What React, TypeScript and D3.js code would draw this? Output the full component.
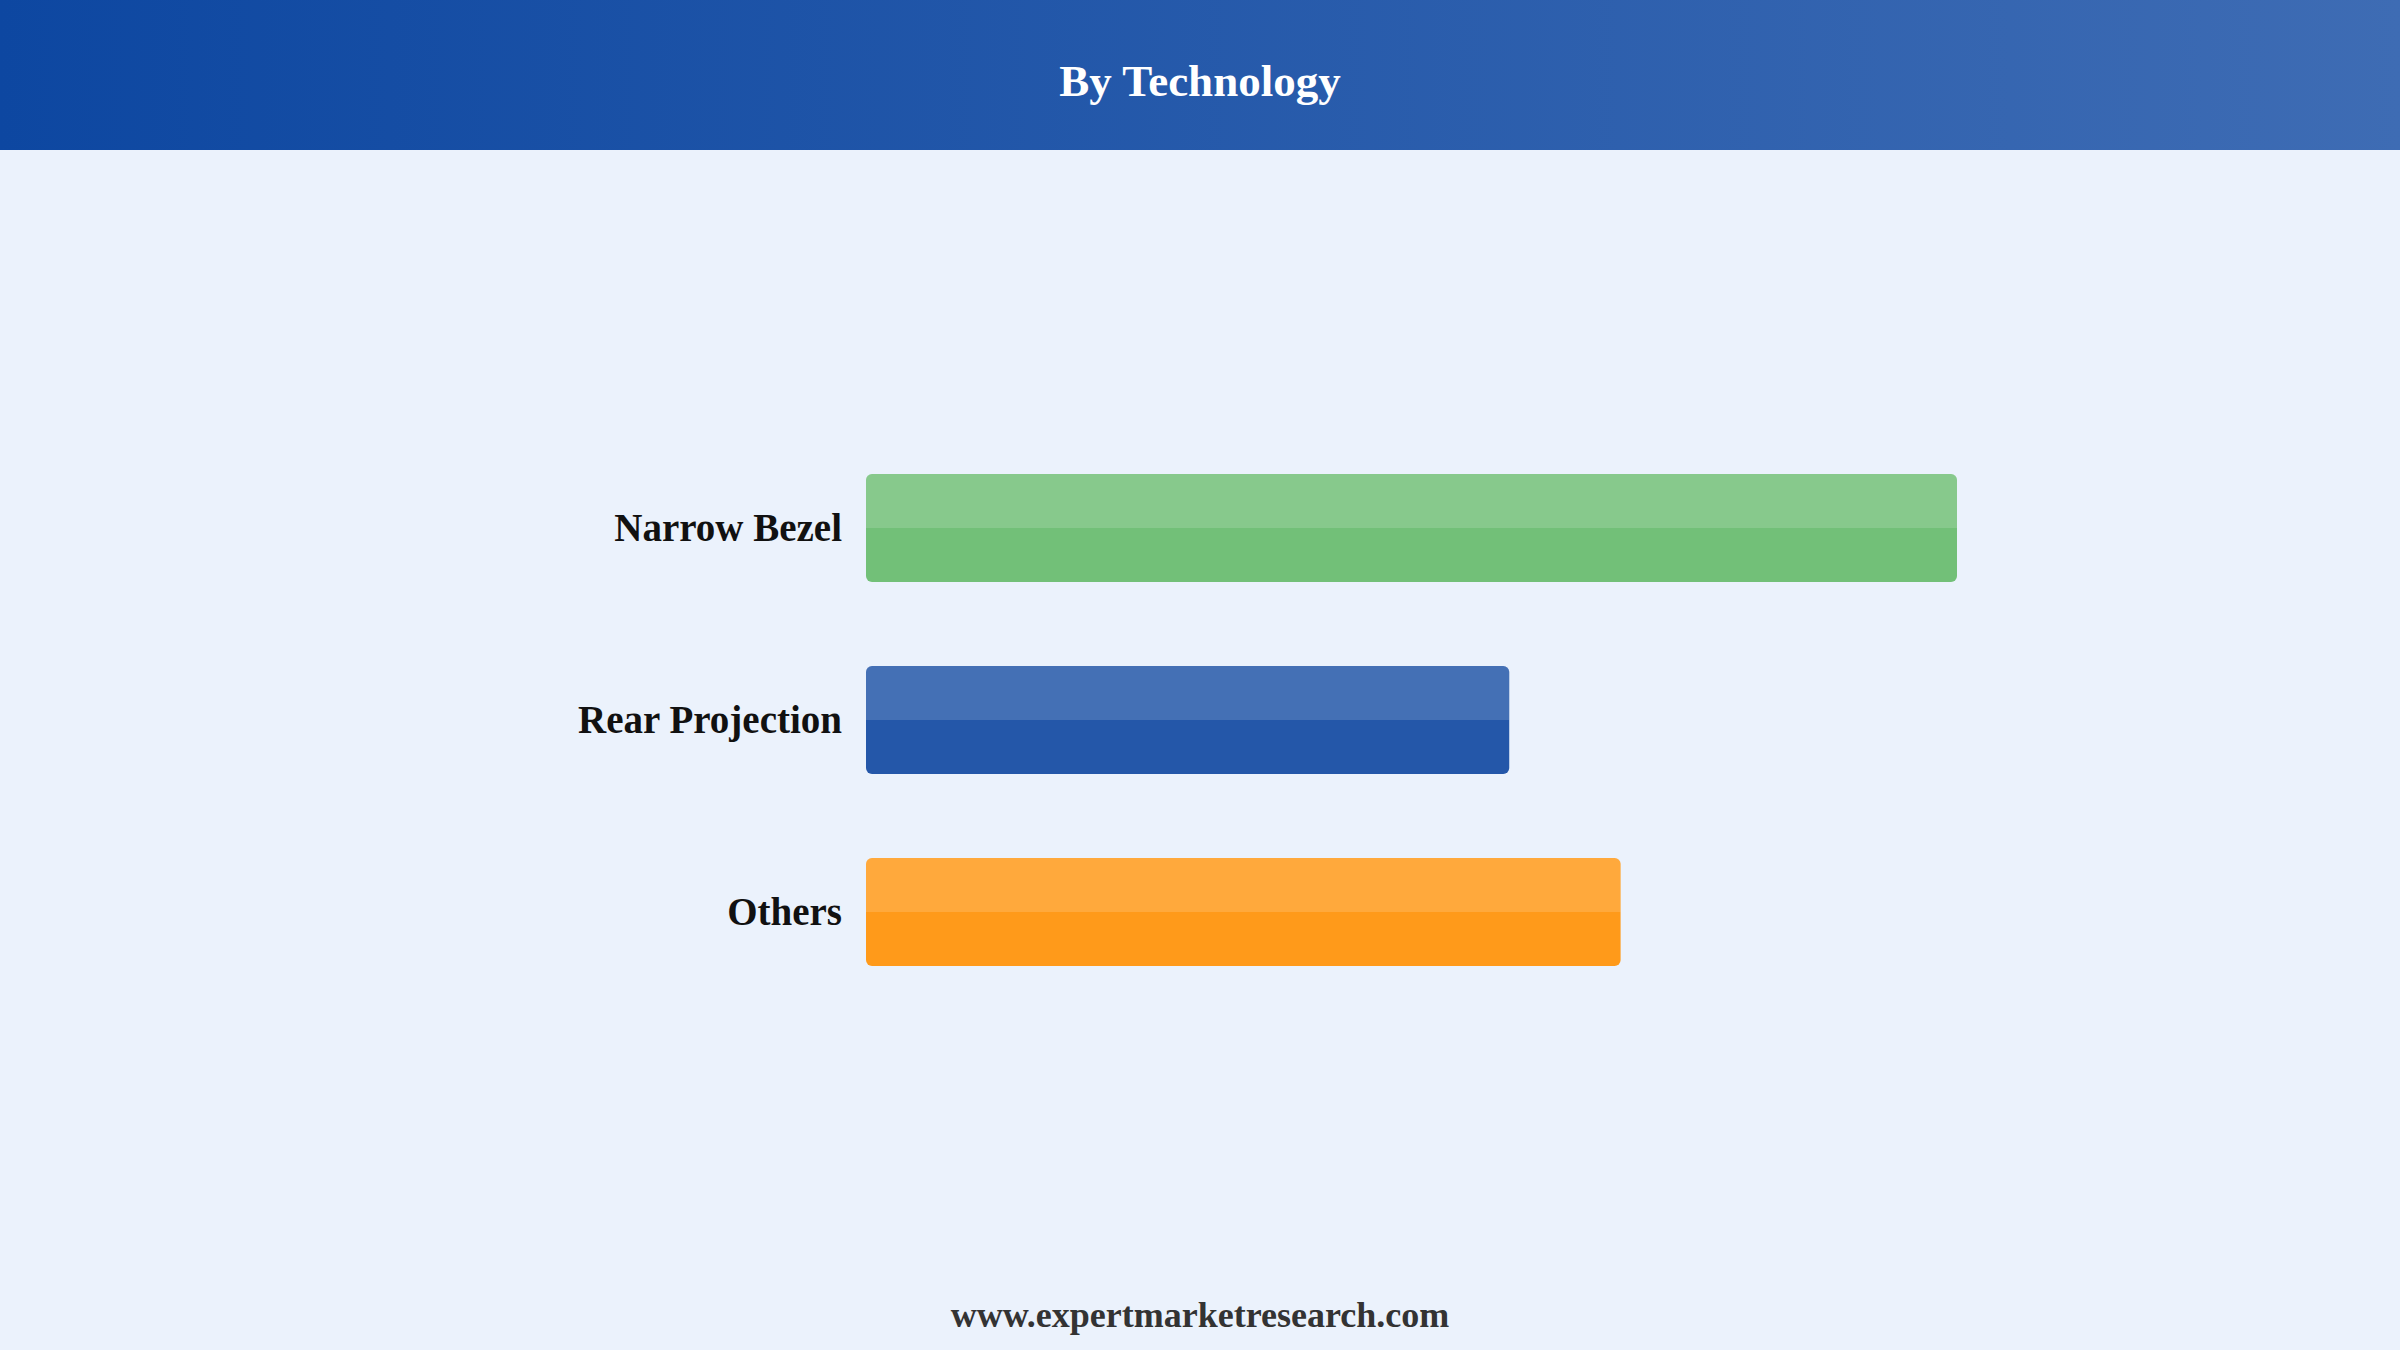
import * as d3 from "d3";
import { useEffect, useRef } from "react";

const categories = ["Narrow Bezel", "Rear Projection", "Others"];
const values = [48, 28.3, 33.2];
const colors = ["#72c078", "#2457a9", "#ff9a1a"];

const title = "By Technology";
const footer = "www.expertmarketresearch.com";

const width = 2400;
const height = 1350;
const font = "'Liberation Serif', 'Times New Roman', serif";

export default function App() {
  const ref = useRef<SVGSVGElement>(null);

  useEffect(() => {
    document.body.style.margin = "0";
    const svg = d3.select(ref.current);
    svg.selectAll("*").remove();

    const defs = svg.append("defs");
    const grad = defs
      .append("linearGradient")
      .attr("id", "header-grad")
      .attr("x1", "0%")
      .attr("x2", "100%");
    grad.append("stop").attr("offset", "0%").attr("stop-color", "#0d47a1");
    grad.append("stop").attr("offset", "100%").attr("stop-color", "#3e6cb4");

    // page background
    svg.append("rect").attr("width", width).attr("height", height).attr("fill", "#ebf2fc");

    // header band
    svg.append("rect").attr("width", width).attr("height", 150).attr("fill", "url(#header-grad)");
    svg
      .append("text")
      .attr("x", width / 2)
      .attr("y", 96)
      .attr("text-anchor", "middle")
      .attr("font-family", font)
      .attr("font-weight", "bold")
      .attr("font-size", 45)
      .attr("fill", "#ffffff")
      .text(title);

    const x0 = 866;
    const x = d3
      .scaleLinear()
      .domain([0, d3.max(values)!])
      .range([0, 1091]);
    const y = d3
      .scaleBand<string>()
      .domain(categories)
      .range([390, 1050])
      .padding(0.4375);

    const rows = svg
      .selectAll<SVGGElement, string>("g.row")
      .data(categories)
      .join("g")
      .attr("class", "row")
      .attr("transform", (d) => `translate(0,${y(d)})`);

    const bh = y.bandwidth();

    rows
      .append("rect")
      .attr("x", x0)
      .attr("width", (_, i) => x(values[i]))
      .attr("height", bh)
      .attr("rx", 6)
      .attr("fill", (_, i) => colors[i]);

    // lighter top half
    rows.each(function (_, i) {
      const g = d3.select(this);
      const w = x(values[i]);
      const r = 6;
      const h = bh / 2;
      const p = `M${x0},${h}V${r}Q${x0},0 ${x0 + r},0H${x0 + w - r}Q${x0 + w},0 ${x0 + w},${r}V${h}Z`;
      g.append("path").attr("d", p).attr("fill", "#ffffff").attr("fill-opacity", 0.15);
    });

    rows
      .append("text")
      .attr("x", x0 - 24)
      .attr("y", bh / 2)
      .attr("dy", "0.34em")
      .attr("text-anchor", "end")
      .attr("font-family", font)
      .attr("font-weight", "bold")
      .attr("font-size", 39)
      .attr("fill", "#111111")
      .text((d) => d);

    svg
      .append("text")
      .attr("x", width / 2)
      .attr("y", 1327)
      .attr("text-anchor", "middle")
      .attr("font-family", font)
      .attr("font-weight", "bold")
      .attr("font-size", 36)
      .attr("fill", "#333333")
      .text(footer);
  }, []);

  return (
    <svg
      ref={ref}
      width={width}
      height={height}
      viewBox={`0 0 ${width} ${height}`}
      style={{ display: "block", position: "absolute", left: 0, top: 0 }}
    />
  );
}
